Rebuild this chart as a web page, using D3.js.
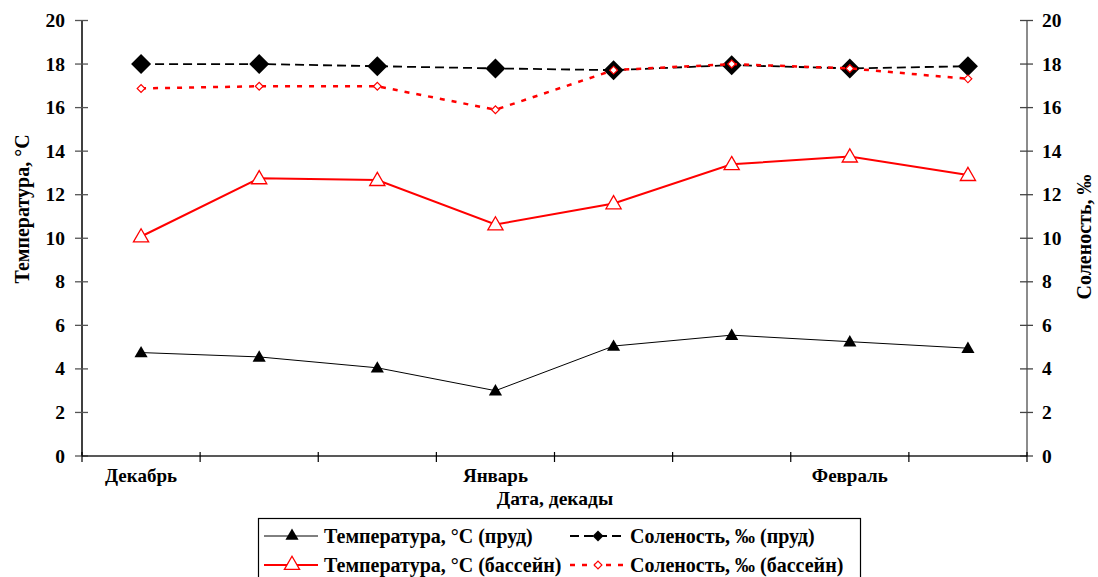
<!DOCTYPE html>
<html>
<head>
<meta charset="utf-8">
<script src="https://cdn.jsdelivr.net/npm/d3@7"></script>
<style>
  body { margin: 0; background: #fff; }
  #chart text { font-family: 'Liberation Serif', Tinos, 'Times New Roman', serif !important; font-weight: bold; }
</style>
</head>
<body>
<svg id="chart" width="1098" height="577"></svg>
<script>
// decades (10-day periods), Dec - Feb
const decades = ['d1', 'd2', 'd3', 'j1', 'j2', 'j3', 'f1', 'f2']
const monthLabels = [['d1', 'Декабрь'], ['j1', 'Январь'], ['f1', 'Февраль']]
const tempPond = [4.75, 4.55, 4.05, 3.0, 5.05, 5.55, 5.25, 4.95]
const tempPool = [10.08, 12.75, 12.67, 10.63, 11.6, 13.4, 13.75, 12.9]
const salPond = [18.0, 18.0, 17.9, 17.8, 17.72, 17.95, 17.8, 17.9]
const salPool = [16.88, 16.98, 16.98, 15.9, 17.72, 18.0, 17.8, 17.32]
const yTicks = [0, 2, 4, 6, 8, 10, 12, 14, 16, 18, 20]

const svg = d3.select('#chart')
const mLeft = 82, mRight = 1027, mTop = 20.5, mBottom = 456

const x = d3.scaleBand().domain(decades).range([mLeft, mRight])
const cx = (d) => x(d) + x.bandwidth() / 2
const yL = d3.scaleLinear().domain([0, 20]).range([mBottom, mTop])
const yR = d3.scaleLinear().domain([0, 20]).range([mBottom, mTop])

// Axes
const gl = svg.append('g').attr('transform', `translate(${mLeft},0)`)
gl.append('line').attr('y1', mTop).attr('y2', mBottom).attr('stroke', '#000').attr('stroke-width', 1.5)
gl.selectAll('.t').data(yTicks).enter().append('line')
  .attr('x1', -7).attr('x2', 6).attr('y1', (d) => yL(d)).attr('y2', (d) => yL(d))
  .attr('stroke', '#555').attr('stroke-width', 1.3)
gl.selectAll('.l').data(yTicks).enter().append('text')
  .attr('x', -17).attr('y', (d) => yL(d) + 6.5)
  .attr('text-anchor', 'end').attr('font-size', 19.5)
  .text((d) => d)

const gr = svg.append('g').attr('transform', `translate(${mRight},0)`)
gr.append('line').attr('y1', mTop).attr('y2', mBottom).attr('stroke', '#666').attr('stroke-width', 1.5)
gr.selectAll('.t').data(yTicks).enter().append('line')
  .attr('x1', -7).attr('x2', 6).attr('y1', (d) => yR(d)).attr('y2', (d) => yR(d))
  .attr('stroke', '#444').attr('stroke-width', 1.3)
gr.selectAll('.l').data(yTicks).enter().append('text')
  .attr('x', 15).attr('y', (d) => yR(d) + 6.5)
  .attr('text-anchor', 'start').attr('font-size', 19.5)
  .text((d) => d)

// x axis
svg.append('line').attr('x1', mLeft).attr('x2', mRight).attr('y1', mBottom).attr('y2', mBottom)
  .attr('stroke', '#222').attr('stroke-width', 1.5)
const xTicks = decades.map((d) => x(d)).concat([mRight])
svg.selectAll('.xt').data(xTicks).enter().append('line')
  .attr('x1', (d) => d).attr('x2', (d) => d).attr('y1', mBottom - 4).attr('y2', mBottom + 6)
  .attr('stroke', '#000').attr('stroke-width', 1.2)
svg.selectAll('.xl').data(monthLabels).enter().append('text')
  .attr('x', (d) => cx(d[0])).attr('y', 482)
  .attr('text-anchor', 'middle').attr('font-size', 19)
  .text((d) => d[1])

// titles
svg.append('text').attr('x', 555).attr('y', 505).attr('text-anchor', 'middle').attr('font-size', 19.5)
  .text('Дата, декады')
svg.append('text').attr('transform', 'translate(29,209) rotate(-90)').attr('text-anchor', 'middle')
  .attr('font-size', 20).text('Температура, °С')
svg.append('text').attr('transform', 'translate(1091,237) rotate(-90)').attr('text-anchor', 'middle')
  .attr('font-size', 20).text('Соленость, ‰')

// series
const line = d3.line().x((d, i) => cx(decades[i]))

svg.append('path').datum(tempPond).attr('fill', 'none').attr('stroke', '#000').attr('stroke-width', 1)
  .attr('d', line.y((d) => yL(d)))
svg.append('path').datum(tempPool).attr('fill', 'none').attr('stroke', '#f00').attr('stroke-width', 2)
  .attr('d', line.y((d) => yL(d)))
svg.append('path').datum(salPond).attr('fill', 'none').attr('stroke', '#000').attr('stroke-width', 1.8)
  .attr('stroke-dasharray', '9,5')
  .attr('d', line.y((d) => yR(d)))

const tri = d3.symbol().type(d3.symbolTriangle)
const dia = d3.symbol().type(d3.symbolSquare)

svg.selectAll('.m1').data(tempPond).enter().append('path')
  .attr('d', tri.size(75)())
  .attr('transform', (d, i) => `translate(${cx(decades[i])},${yL(d) + 1})`)
  .attr('fill', '#000')
svg.selectAll('.m2').data(tempPool).enter().append('path')
  .attr('d', tri.size(100)())
  .attr('transform', (d, i) => `translate(${cx(decades[i])},${yL(d) + 1})`)
  .attr('fill', '#fff').attr('stroke', '#f00').attr('stroke-width', 1.3)
svg.selectAll('.m3').data(salPond).enter().append('path')
  .attr('d', dia.size(200)())
  .attr('transform', (d, i) => `translate(${cx(decades[i])},${yR(d)}) rotate(45)`)
  .attr('fill', '#000')

svg.append('path').datum(salPool).attr('fill', 'none').attr('stroke', '#f00').attr('stroke-width', 2.5)
  .attr('stroke-dasharray', '5,7')
  .attr('d', line.y((d) => yR(d)))
svg.selectAll('.m4').data(salPool).enter().append('path')
  .attr('d', dia.size(30)())
  .attr('transform', (d, i) => `translate(${cx(decades[i])},${yR(d)}) rotate(45)`)
  .attr('fill', '#fff').attr('stroke', '#f00').attr('stroke-width', 1.2)

// legend
const lg = svg.append('g')
lg.append('rect').attr('x', 258.5).attr('y', 518.5).attr('width', 602).attr('height', 70)
  .attr('fill', '#fff').attr('stroke', '#000').attr('stroke-width', 1.2)
const legendItems = [
  { x: 264, y: 536, label: 'Температура, °С (пруд)', stroke: '#000', sw: 1, dash: null, mark: 'triB' },
  { x: 570, y: 536, label: 'Соленость, ‰ (пруд)', stroke: '#000', sw: 1.8, dash: '9,5', mark: 'diaB' },
  { x: 264, y: 565, label: 'Температура, °С (бассейн)', stroke: '#f00', sw: 2, dash: null, mark: 'triR' },
  { x: 570, y: 565, label: 'Соленость, ‰ (бассейн)', stroke: '#f00', sw: 2.5, dash: '5,7', mark: 'diaR' }
]
legendItems.forEach((it) => {
  lg.append('line').attr('x1', it.x).attr('x2', it.x + 54).attr('y1', it.y).attr('y2', it.y)
    .attr('stroke', it.stroke).attr('stroke-width', it.sw).attr('stroke-dasharray', it.dash)
  const m = lg.append('path').attr('transform', `translate(${it.x + 28},${it.y})` + (it.mark.startsWith('dia') ? ' rotate(45)' : ''))
  if (it.mark === 'triB') m.attr('d', tri.size(75)()).attr('fill', '#000')
  if (it.mark === 'triR') m.attr('d', tri.size(100)()).attr('fill', '#fff').attr('stroke', '#f00').attr('stroke-width', 1.3)
  if (it.mark === 'diaB') m.attr('d', dia.size(60)()).attr('fill', '#000')
  if (it.mark === 'diaR') m.attr('d', dia.size(30)()).attr('fill', '#fff').attr('stroke', '#f00').attr('stroke-width', 1.2)
  lg.append('text').attr('x', it.x + 60).attr('y', it.y + 6.5).attr('font-size', 20).text(it.label)
})

// all labels in bold serif
svg.selectAll('text')
  .style('font-family', "'Liberation Serif', Tinos, 'Times New Roman', serif")
  .style('font-weight', 'bold').attr('fill', '#000')
</script>
</body>
</html>
